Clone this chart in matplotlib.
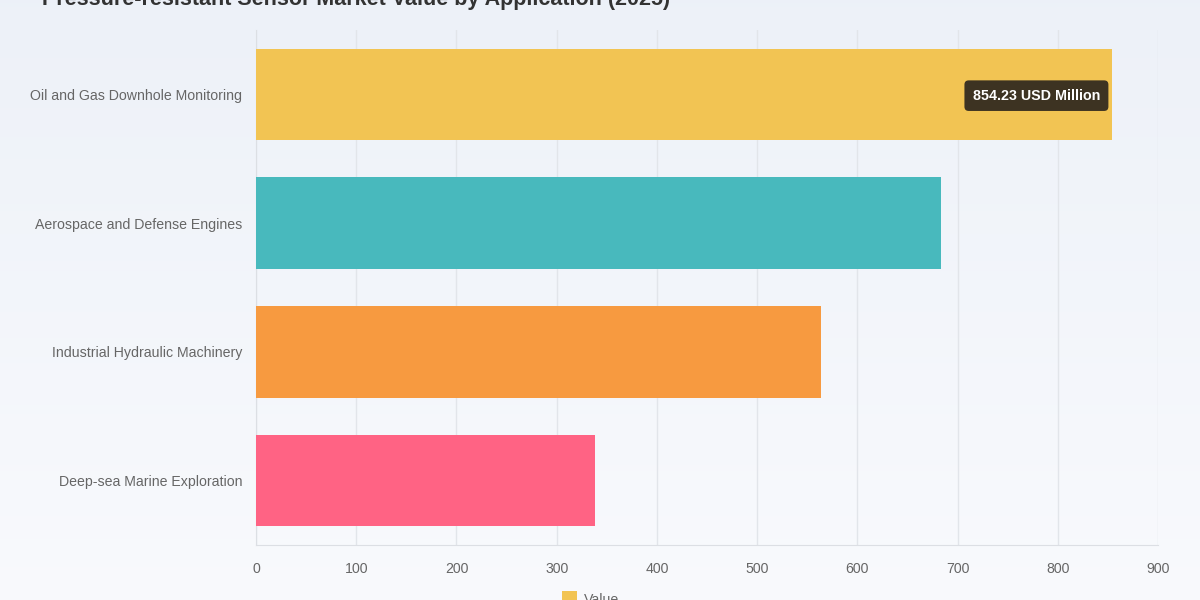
import numpy as np
import matplotlib.pyplot as plt
from matplotlib.patches import Rectangle

plt.rcParams["font.family"] = ["Liberation Sans", "DejaVu Sans"]

# data
categories = ["Oil and Gas Downhole Monitoring", "Aerospace and Defense Engines",
              "Industrial Hydraulic Machinery", "Deep-sea Marine Exploration"]
values = [854.23, 683.0, 564.0, 338.0]
colors = ["#F2C453", "#48B9BD", "#F79A40", "#FF6384"]
ticks = [0, 100, 200, 300, 400, 500, 600, 700, 800, 900]
title = "Pressure-resistant Sensor Market Value by Application (2025)"

fig = plt.figure(figsize=(12, 6), dpi=100)

# background gradient
bg = fig.add_axes([0, 0, 1, 1], zorder=-10)
grad = np.linspace(0, 1, 256).reshape(-1, 1)
top = np.array([0.929, 0.945, 0.973])
bot = np.array([0.975, 0.980, 0.992])
img = top + (bot - top) * grad[:, :, None]
bg.imshow(img, aspect="auto", extent=[0, 1, 0, 1])
bg.axis("off")

ax = fig.add_axes([256 / 1200, 55 / 600, 902 / 1200, 515 / 600])
ax.patch.set_alpha(0)
y = np.arange(len(categories))
ax.barh(y, values, height=0.71, color=colors, zorder=3)
ax.set_ylim(len(categories) - 0.5, -0.5)
ax.set_xlim(0, 900)
ax.set_xticks(ticks)
ax.set_yticks(y)
ax.set_yticklabels(categories)
ax.tick_params(axis="both", colors="#666666", labelsize=10.2, length=0)
ax.tick_params(axis="y", pad=10)
ax.tick_params(axis="x", pad=12)
ax.grid(axis="x", color="#e2e5ea", linewidth=1, zorder=0)
for s in ["top", "right"]:
    ax.spines[s].set_visible(False)
ax.spines["left"].set_color("#dcdfe4")
ax.spines["bottom"].set_color("#dcdfe4")

# tooltip on the first bar
ax.text(values[0] - 12, 0.01, f"{values[0]:.2f} USD Million", ha="right", va="center",
        color="white", fontsize=10.3, fontweight="bold", zorder=5,
        bbox=dict(boxstyle="round,pad=0.58,rounding_size=0.3", fc="#3d3322", ec="none"))

# title (clipped at top like reference)
fig.text(0.035, 1.0, title, ha="left", va="center", fontsize=15.5,
         fontweight="bold", color="#333333")

# legend
fig.patches.append(Rectangle((562 / 1200, 0), 15 / 1200, 9 / 600,
                             transform=fig.transFigure, fc="#F2C453", ec="none"))
fig.text(584 / 1200, 0.0, "Value", ha="left", va="center", fontsize=10.2, color="#666666")

fig.savefig("out.png", dpi=100)
